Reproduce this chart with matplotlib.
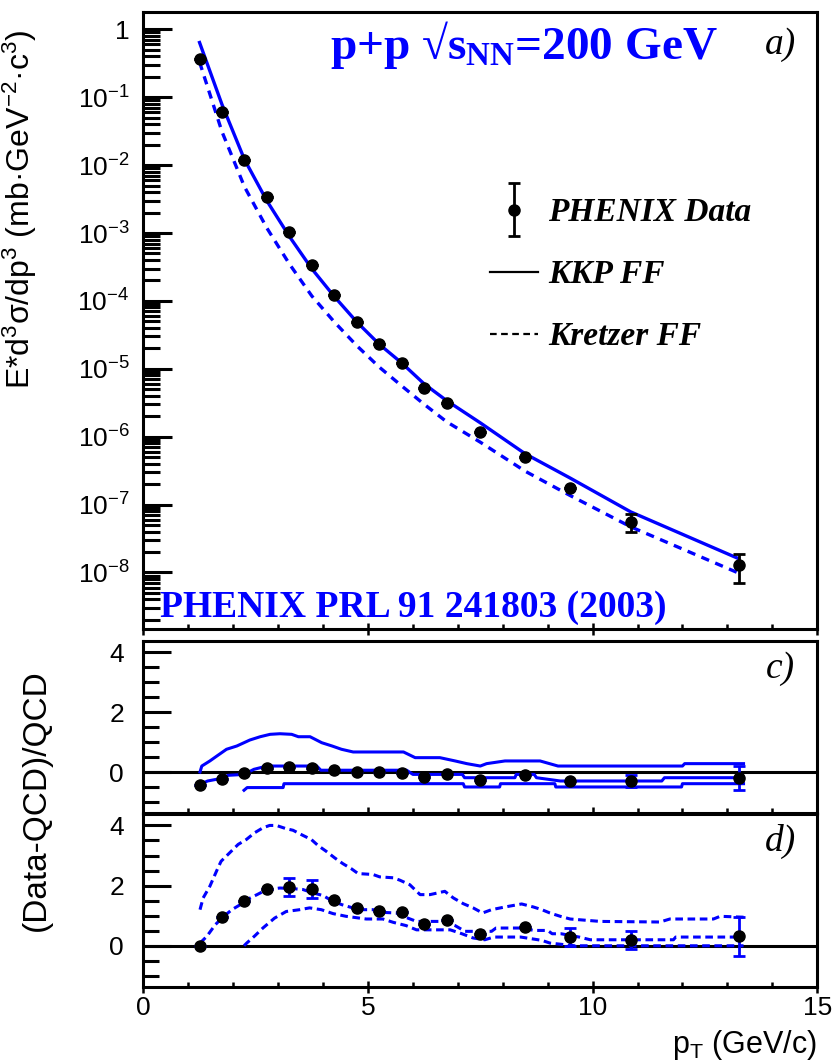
import numpy as np
import matplotlib
matplotlib.use('Agg')
import matplotlib.pyplot as plt
from matplotlib.lines import Line2D
from matplotlib.ticker import FixedLocator, FixedFormatter, NullFormatter
from matplotlib.legend_handler import HandlerErrorbar
from matplotlib.container import ErrorbarContainer

plt.rcParams['font.family'] = 'Liberation Sans'
plt.rcParams['mathtext.fontset'] = 'custom'
plt.rcParams['mathtext.rm'] = 'Liberation Sans'
plt.rcParams['mathtext.default'] = 'regular'

blue = '#0000ff'

# ---- data ----
pt = [1.25, 1.75, 2.25, 2.75, 3.25, 3.75, 4.25, 4.75, 5.25, 5.75, 6.25, 6.75,
      7.5, 8.5, 9.5, 10.85, 13.25]
xsec = [0.36, 0.061, 0.0119, 3.4e-3, 1.04e-3, 3.4e-4, 1.23e-4, 4.9e-5, 2.3e-5,
        1.2e-5, 5.2e-6, 3.1e-6, 1.16e-6, 5.0e-7, 1.75e-7, 5.6e-8, 1.28e-8]
# error bars hidden behind the markers are left at 0
xsec_err = [0, 0, 0, 0, 0, 0, 0, 0, 0, 0, 0, 0, 0, 0, 0, 1.6e-8, 5.7e-9]

kkp = [0.64, 0.078, 0.0121, 2.97e-3, 8.9e-4, 2.97e-4, 1.16e-4, 4.9e-5, 2.3e-5,
       1.22e-5, 6.0e-6, 3.4e-6, 1.6e-6, 5.6e-7, 2.46e-7, 7.8e-8, 1.6e-8]
kretzer = [0.33, 0.031, 4.8e-3, 1.18e-3, 3.5e-4, 1.18e-4, 4.9e-5, 2.19e-5, 1.06e-5,
           5.6e-6, 3.0e-6, 1.66e-6, 8.3e-7, 3.1e-7, 1.36e-7, 4.7e-8, 9.8e-9]

# (Data-QCD)/QCD, KKP
ratio_c = [-0.43, -0.22, -0.02, 0.15, 0.17, 0.15, 0.06, 0.0, 0.0, -0.02, -0.17,
           -0.08, -0.28, -0.11, -0.29, -0.30, -0.19]
ratio_c_err = [0, 0, 0, 0, 0, 0, 0, 0, 0, 0, 0, 0, 0, 0, 0, 0.2, 0.4]
# (Data-QCD)/QCD, Kretzer
ratio_d = [0.0, 0.96, 1.48, 1.89, 1.96, 1.89, 1.51, 1.24, 1.17, 1.13, 0.72, 0.87,
           0.4, 0.62, 0.29, 0.18, 0.31]
ratio_d_err = [0, 0, 0, 0, 0.3, 0.3, 0, 0, 0, 0, 0, 0, 0, 0, 0.3, 0.3, 0.64]

# scale bands, panel c (solid)
c_up_x = [1.26, 1.30, 1.48, 1.65, 1.85, 2.08, 2.37, 2.60, 2.82, 3.04, 3.30, 3.45,
          3.71, 3.97, 4.20, 4.41, 4.67, 5.79, 6.05, 6.60, 6.94, 7.20, 7.50, 7.64,
          8.05, 8.83, 9.23, 12.0, 12.05, 13.36]
c_up_y = [0.0, 0.2, 0.37, 0.55, 0.76, 0.87, 1.07, 1.18, 1.26, 1.28, 1.26, 1.18,
          1.18, 0.98, 0.87, 0.76, 0.67, 0.67, 0.48, 0.48, 0.37, 0.28, 0.2, 0.28,
          0.37, 0.37, 0.2, 0.2, 0.28, 0.28]
c_mid_x = [1.26, 1.43, 1.71, 1.89, 2.24, 2.46, 2.75, 3.86, 3.95, 5.86, 6.0, 7.1,
           7.15, 8.27, 8.3, 8.7, 8.75, 9.28, 11.54, 11.6, 13.36]
c_mid_y = [-0.41, -0.3, -0.22, -0.11, -0.08, 0.09, 0.2, 0.2, 0.06, 0.06, -0.08,
           -0.08, -0.19, -0.19, -0.08, -0.08, -0.19, -0.3, -0.3, -0.19, -0.19]
c_lo_x = [2.24, 2.31, 3.11, 3.13, 7.12, 7.15, 7.93, 7.95, 9.16, 9.18, 11.98, 12.0,
          13.36]
c_lo_y = [-0.61, -0.52, -0.52, -0.39, -0.39, -0.5, -0.5, -0.39, -0.39, -0.5, -0.5,
          -0.39, -0.39]

# scale bands, panel d (dashed)
d_up_x = [1.26, 1.33, 1.48, 1.66, 1.73, 1.92, 2.11, 2.29, 2.48, 2.66, 2.81, 2.96,
          3.18, 3.33, 3.55, 3.74, 3.89, 4.07, 4.26, 4.44, 4.63, 4.78, 5.11, 5.26,
          5.56, 5.71, 5.93, 6.16, 6.38, 6.71, 6.90, 7.12, 7.34, 7.55, 7.75, 8.05,
          8.42, 8.68, 8.87, 9.05, 9.28, 9.50, 10.17, 11.5, 11.72, 12.69, 12.84, 13.36]
d_up_y = [1.2, 1.59, 1.98, 2.59, 2.81, 3.09, 3.37, 3.53, 3.76, 3.92, 4.0, 4.0,
          3.89, 3.84, 3.67, 3.53, 3.33, 3.14, 2.92, 2.73, 2.56, 2.4, 2.37, 2.29,
          2.26, 2.18, 2.03, 1.7, 1.7, 1.81, 1.59, 1.4, 1.26, 1.09, 1.2, 1.29,
          1.39, 1.29, 1.2, 1.09, 0.98, 0.89, 0.81, 0.79, 0.89, 0.89, 0.98, 0.95]
d_mid_x = [1.26, 1.41, 1.60, 1.79, 1.97, 2.16, 2.38, 2.53, 2.75, 3.04, 3.33, 3.55,
           3.77, 4.00, 4.18, 4.41, 4.59, 4.81, 5.11, 5.33, 5.63, 5.78, 6.08, 6.68,
           6.94, 7.16, 7.75, 7.85, 8.4, 8.7, 9.0, 9.1, 9.3, 9.7, 9.95, 11.8, 11.85,
           13.36]
d_mid_y = [0.09, 0.31, 0.7, 0.98, 1.2, 1.37, 1.59, 1.7, 1.87, 1.92, 1.9, 1.87,
           1.76, 1.67, 1.51, 1.37, 1.29, 1.2, 1.2, 1.11, 1.09, 0.98, 0.81, 0.81,
           0.67, 0.48, 0.48, 0.59, 0.59, 0.51, 0.51, 0.4, 0.4, 0.29, 0.2, 0.2, 0.29,
           0.29]
d_lo_x = [2.24, 2.30, 2.48, 2.66, 2.92, 3.18, 3.48, 3.70, 3.96, 4.22, 4.51, 4.96,
          5.33, 5.56, 5.85, 6.08, 6.83, 7.09, 7.34, 7.6, 7.8, 8.4, 8.87, 9.05, 9.6,
          13.36]
d_lo_y = [0.0, 0.09, 0.33, 0.59, 0.92, 1.14, 1.2, 1.26, 1.2, 1.07, 0.98, 0.89,
          0.89, 0.78, 0.67, 0.53, 0.53, 0.4, 0.26, 0.2, 0.29, 0.29, 0.18, 0.09, 0.0,
          0.0]

decades = [1, 1e-1, 1e-2, 1e-3, 1e-4, 1e-5, 1e-6, 1e-7, 1e-8]
decade_labels = ['1', '$10^{-1}$', '$10^{-2}$', '$10^{-3}$', '$10^{-4}$',
                 '$10^{-5}$', '$10^{-6}$', '$10^{-7}$', '$10^{-8}$']

W, H = 836, 1062
fig = plt.figure(figsize=(W / 100, H / 100), dpi=100)


def frac(l, t, r, b):
    return [l / W, 1 - b / H, (r - l) / W, (b - t) / H]


ax = fig.add_axes(frac(143.4, 11.7, 817.2, 629))
axc = fig.add_axes(frac(143.4, 641, 817.2, 812.7))
axd = fig.add_axes(frac(143.4, 814, 817.2, 986.7))

lw_frame = 2.2
for a in (ax, axc, axd):
    for s in a.spines.values():
        s.set_linewidth(lw_frame)
    a.set_xlim(0, 15)
    a.xaxis.set_major_locator(FixedLocator([0, 5, 10, 15]))
    a.xaxis.set_minor_locator(FixedLocator(np.arange(0, 16, 1)))
    a.tick_params(axis='x', which='major', direction='inout', length=8, width=1.8,
                  labelsize=19, pad=3, top=False)
    a.tick_params(axis='x', which='minor', direction='in', length=3.5, width=1.8,
                  top=False)
    a.tick_params(axis='y', right=False)

# ---- top panel ----
ax.set_yscale('log')
ax.set_ylim(1.47e-9, 1.82)
ax.plot(pt, kkp, color=blue, lw=2.4, zorder=3)
ax.plot(pt, kretzer, color=blue, lw=2.4, ls=(0, (2.5, 2.0)), zorder=3)
eb = ax.errorbar(pt, xsec, yerr=xsec_err, fmt='o', color='k', ms=8,
                 elinewidth=2, capsize=4, capthick=2, zorder=4)
ax.yaxis.set_major_locator(FixedLocator(decades))
ax.yaxis.set_major_formatter(FixedFormatter(decade_labels))
ax.yaxis.set_minor_locator(matplotlib.ticker.LogLocator(base=10, subs=np.arange(2, 10),
                                                         numticks=30))
ax.yaxis.set_minor_formatter(NullFormatter())
ax.tick_params(axis='y', which='major', direction='in', length=21, width=2.2,
               labelsize=19, pad=10)
ax.tick_params(axis='y', which='minor', direction='in', length=12, width=2.2)
ax.xaxis.set_major_formatter(NullFormatter())
ax.set_ylabel(r'E*d$^{3}$σ/dp$^{3}$ (mb·GeV$^{-2}$·c$^{3}$)', fontsize=23)
ax.yaxis.set_label_coords(-0.155, 0.68)

ax.text(0.565, 0.946, r'p+p √s$_{NN}$=200 GeV', transform=ax.transAxes,
        ha='center', va='center', color=blue, fontsize=34,
        family='Liberation Serif', weight='bold')
ax.text(0.945, 0.946, 'a)', transform=ax.transAxes, ha='center', va='center',
        fontsize=27, family='Liberation Serif', style='italic')
ax.text(0.024, 0.035, 'PHENIX PRL 91 241803 (2003)', transform=ax.transAxes,
        ha='left', va='center', color=blue, fontsize=27,
        family='Liberation Serif', weight='bold')

handles = [eb,
           Line2D([], [], color='k', lw=1.6),
           Line2D([], [], color='k', lw=1.6, ls=(0, (3, 2)))]
labels = ['PHENIX Data', 'KKP FF', 'Kretzer FF']
leg = ax.legend(handles, labels, loc='upper left', bbox_to_anchor=(0.47, 0.748),
                frameon=False, handlelength=1.45, handletextpad=0.3,
                labelspacing=0.93,
                prop={'family': 'Liberation Serif', 'style': 'italic',
                      'weight': 'bold', 'size': 24},
                handler_map={ErrorbarContainer: HandlerErrorbar(yerr_size=0.8)})

# ---- ratio panels ----
for a, r, rerr, bands, ls, tag in (
        (axc, ratio_c, ratio_c_err,
         [(c_up_x, c_up_y), (c_mid_x, c_mid_y), (c_lo_x, c_lo_y)], '-', 'c)'),
        (axd, ratio_d, ratio_d_err,
         [(d_up_x, d_up_y), (d_mid_x, d_mid_y), (d_lo_x, d_lo_y)],
         (0, (2.5, 1.5)), 'd)')):
    a.set_ylim(-1.36, 4.38)
    a.axhline(0, color='k', lw=2.2, zorder=2)
    for bx, by in bands:
        a.plot(bx, by, color=blue, lw=2.2, ls=ls, zorder=3)
    a.errorbar(pt, r, yerr=rerr, fmt='o', color='k', ecolor=blue, ms=8,
               elinewidth=2, capsize=4, capthick=2, zorder=4)
    a.yaxis.set_major_locator(FixedLocator([0, 2, 4]))
    a.yaxis.set_minor_locator(FixedLocator(np.arange(-1, 4.5, 0.5)))
    a.tick_params(axis='y', which='major', direction='in', length=20, width=2.2,
                  labelsize=19, pad=14)
    a.tick_params(axis='y', which='minor', direction='in', length=11.5, width=2.2)
    a.text(0.945, 0.84, tag, transform=a.transAxes, ha='center', va='center',
           fontsize=27, family='Liberation Serif', style='italic')

axc.xaxis.set_major_formatter(NullFormatter())
axd.set_xlabel('p$_{T}$ (GeV/c)', fontsize=22)
axd.xaxis.set_label_coords(1.0, -0.24)
axd.xaxis.label.set_ha('right')
axd.xaxis.label.set_va('top')

fig.text(36 / W, 1 - 800 / H, '(Data-QCD)/QCD', rotation=90, ha='center',
         va='center', fontsize=24)

fig.savefig('out.png', dpi=100)
